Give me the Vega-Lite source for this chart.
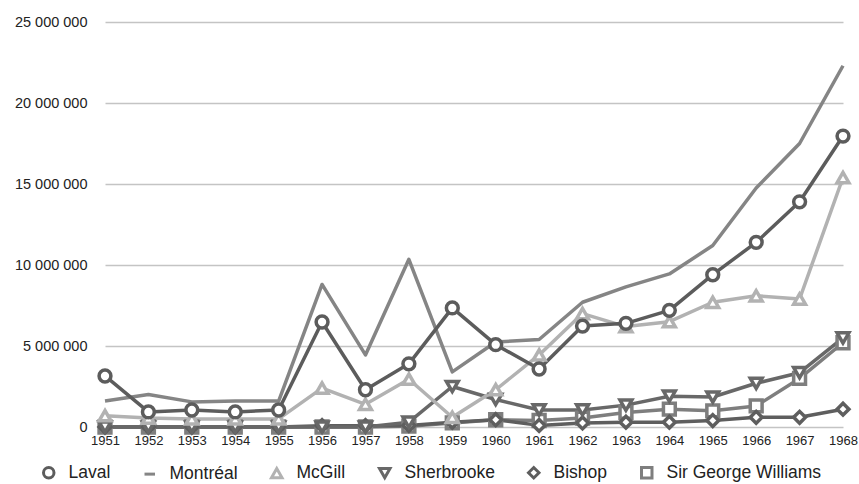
{
  "$schema": "https://vega.github.io/schema/vega-lite/v6.json",
  "autosize": {"type": "none"},
  "width": 738,
  "height": 405,
  "padding": {"left": 105, "top": 22, "right": 16, "bottom": 57},
  "background": "white",
  "config": {
    "font": "Liberation Sans",
    "view": {"stroke": null}
  },
  "resolve": {"legend": {"color": "independent", "shape": "independent"}},
  "data": {
    "values": [
      {"year": "1951", "series": "Sir George Williams", "value": 0},
      {"year": "1952", "series": "Sir George Williams", "value": 0},
      {"year": "1953", "series": "Sir George Williams", "value": 0},
      {"year": "1954", "series": "Sir George Williams", "value": 0},
      {"year": "1955", "series": "Sir George Williams", "value": 0},
      {"year": "1956", "series": "Sir George Williams", "value": 0},
      {"year": "1957", "series": "Sir George Williams", "value": 0},
      {"year": "1958", "series": "Sir George Williams", "value": 50000},
      {"year": "1959", "series": "Sir George Williams", "value": 250000},
      {"year": "1960", "series": "Sir George Williams", "value": 450000},
      {"year": "1961", "series": "Sir George Williams", "value": 400000},
      {"year": "1962", "series": "Sir George Williams", "value": 550000},
      {"year": "1963", "series": "Sir George Williams", "value": 900000},
      {"year": "1964", "series": "Sir George Williams", "value": 1100000},
      {"year": "1965", "series": "Sir George Williams", "value": 1000000},
      {"year": "1966", "series": "Sir George Williams", "value": 1300000},
      {"year": "1967", "series": "Sir George Williams", "value": 3000000},
      {"year": "1968", "series": "Sir George Williams", "value": 5200000},
      {"year": "1951", "series": "Montréal", "value": 1600000},
      {"year": "1952", "series": "Montréal", "value": 2000000},
      {"year": "1953", "series": "Montréal", "value": 1550000},
      {"year": "1954", "series": "Montréal", "value": 1600000},
      {"year": "1955", "series": "Montréal", "value": 1600000},
      {"year": "1956", "series": "Montréal", "value": 8800000},
      {"year": "1957", "series": "Montréal", "value": 4450000},
      {"year": "1958", "series": "Montréal", "value": 10350000},
      {"year": "1959", "series": "Montréal", "value": 3400000},
      {"year": "1960", "series": "Montréal", "value": 5250000},
      {"year": "1961", "series": "Montréal", "value": 5400000},
      {"year": "1962", "series": "Montréal", "value": 7700000},
      {"year": "1963", "series": "Montréal", "value": 8650000},
      {"year": "1964", "series": "Montréal", "value": 9450000},
      {"year": "1965", "series": "Montréal", "value": 11200000},
      {"year": "1966", "series": "Montréal", "value": 14750000},
      {"year": "1967", "series": "Montréal", "value": 17500000},
      {"year": "1968", "series": "Montréal", "value": 22300000},
      {"year": "1951", "series": "Bishop", "value": 0},
      {"year": "1952", "series": "Bishop", "value": 0},
      {"year": "1953", "series": "Bishop", "value": 0},
      {"year": "1954", "series": "Bishop", "value": 0},
      {"year": "1955", "series": "Bishop", "value": 0},
      {"year": "1956", "series": "Bishop", "value": 80000},
      {"year": "1957", "series": "Bishop", "value": 80000},
      {"year": "1958", "series": "Bishop", "value": 100000},
      {"year": "1959", "series": "Bishop", "value": 300000},
      {"year": "1960", "series": "Bishop", "value": 450000},
      {"year": "1961", "series": "Bishop", "value": 100000},
      {"year": "1962", "series": "Bishop", "value": 250000},
      {"year": "1963", "series": "Bishop", "value": 300000},
      {"year": "1964", "series": "Bishop", "value": 300000},
      {"year": "1965", "series": "Bishop", "value": 400000},
      {"year": "1966", "series": "Bishop", "value": 600000},
      {"year": "1967", "series": "Bishop", "value": 600000},
      {"year": "1968", "series": "Bishop", "value": 1100000},
      {"year": "1951", "series": "Sherbrooke", "value": 0},
      {"year": "1952", "series": "Sherbrooke", "value": 0},
      {"year": "1953", "series": "Sherbrooke", "value": 0},
      {"year": "1954", "series": "Sherbrooke", "value": 0},
      {"year": "1955", "series": "Sherbrooke", "value": 0},
      {"year": "1956", "series": "Sherbrooke", "value": 0},
      {"year": "1957", "series": "Sherbrooke", "value": 0},
      {"year": "1958", "series": "Sherbrooke", "value": 300000},
      {"year": "1959", "series": "Sherbrooke", "value": 2500000},
      {"year": "1960", "series": "Sherbrooke", "value": 1700000},
      {"year": "1961", "series": "Sherbrooke", "value": 1050000},
      {"year": "1962", "series": "Sherbrooke", "value": 1050000},
      {"year": "1963", "series": "Sherbrooke", "value": 1350000},
      {"year": "1964", "series": "Sherbrooke", "value": 1900000},
      {"year": "1965", "series": "Sherbrooke", "value": 1850000},
      {"year": "1966", "series": "Sherbrooke", "value": 2700000},
      {"year": "1967", "series": "Sherbrooke", "value": 3350000},
      {"year": "1968", "series": "Sherbrooke", "value": 5500000},
      {"year": "1951", "series": "McGill", "value": 700000},
      {"year": "1952", "series": "McGill", "value": 550000},
      {"year": "1953", "series": "McGill", "value": 500000},
      {"year": "1954", "series": "McGill", "value": 500000},
      {"year": "1955", "series": "McGill", "value": 500000},
      {"year": "1956", "series": "McGill", "value": 2400000},
      {"year": "1957", "series": "McGill", "value": 1400000},
      {"year": "1958", "series": "McGill", "value": 2950000},
      {"year": "1959", "series": "McGill", "value": 600000},
      {"year": "1960", "series": "McGill", "value": 2300000},
      {"year": "1961", "series": "McGill", "value": 4450000},
      {"year": "1962", "series": "McGill", "value": 7000000},
      {"year": "1963", "series": "McGill", "value": 6200000},
      {"year": "1964", "series": "McGill", "value": 6500000},
      {"year": "1965", "series": "McGill", "value": 7700000},
      {"year": "1966", "series": "McGill", "value": 8100000},
      {"year": "1967", "series": "McGill", "value": 7900000},
      {"year": "1968", "series": "McGill", "value": 15400000},
      {"year": "1951", "series": "Laval", "value": 3150000},
      {"year": "1952", "series": "Laval", "value": 930000},
      {"year": "1953", "series": "Laval", "value": 1050000},
      {"year": "1954", "series": "Laval", "value": 930000},
      {"year": "1955", "series": "Laval", "value": 1050000},
      {"year": "1956", "series": "Laval", "value": 6480000},
      {"year": "1957", "series": "Laval", "value": 2300000},
      {"year": "1958", "series": "Laval", "value": 3900000},
      {"year": "1959", "series": "Laval", "value": 7350000},
      {"year": "1960", "series": "Laval", "value": 5080000},
      {"year": "1961", "series": "Laval", "value": 3580000},
      {"year": "1962", "series": "Laval", "value": 6230000},
      {"year": "1963", "series": "Laval", "value": 6400000},
      {"year": "1964", "series": "Laval", "value": 7200000},
      {"year": "1965", "series": "Laval", "value": 9400000},
      {"year": "1966", "series": "Laval", "value": 11400000},
      {"year": "1967", "series": "Laval", "value": 13900000},
      {"year": "1968", "series": "Laval", "value": 17960000}
    ]
  },
  "encoding": {
    "x": {
      "field": "year",
      "type": "ordinal",
      "scale": {"type": "point", "padding": 0},
      "axis": {
        "title": null,
        "labelAngle": 0,
        "labelFontSize": 13,
        "labelColor": "#222222",
        "labelPadding": 7,
        "labelOverlap": false,
        "ticks": false,
        "domain": false,
        "grid": false
      }
    },
    "y": {
      "field": "value",
      "type": "quantitative",
      "scale": {"domain": [0, 25000000], "nice": false},
      "axis": {
        "title": null,
        "values": [0, 5000000, 10000000, 15000000, 20000000, 25000000],
        "labelExpr": "replace(format(datum.value, ','), regexp(',', 'g'), ' ')",
        "labelFontSize": 14.5,
        "labelColor": "#222222",
        "labelPadding": 18,
        "ticks": false,
        "domain": false,
        "grid": true,
        "gridColor": "#c4c4c4",
        "gridWidth": 1.5
      }
    }
  },
  "layer": [
    {
      "mark": {"type": "line", "strokeWidth": 3.5, "strokeJoin": "round"},
      "encoding": {
        "color": {
          "field": "series",
          "type": "nominal",
          "scale": {
            "domain": ["Laval", "Montréal", "McGill", "Sherbrooke", "Bishop", "Sir George Williams"],
            "range": ["#5c5c5c", "#858585", "#b2b2b2", "#686868", "#5e5e5e", "#7e7e7e"]
          },
          "legend": null
        }
      }
    },
    {
      "transform": [{"filter": "datum.series !== 'Montréal'"}],
      "mark": {"type": "point", "filled": false, "size": 140, "strokeWidth": 3.5, "opacity": 1, "fill": "white"},
      "encoding": {
        "color": {
          "field": "series",
          "type": "nominal",
          "scale": {
            "domain": ["Laval", "Montréal", "McGill", "Sherbrooke", "Bishop", "Sir George Williams"],
            "range": ["#5c5c5c", "#858585", "#b2b2b2", "#686868", "#5e5e5e", "#7e7e7e"]
          },
          "legend": {
            "title": null,
            "orient": "none",
            "direction": "horizontal",
            "legendX": -65,
            "legendY": 442,
            "labelFontSize": 17.5,
            "labelColor": "#222222",
            "symbolSize": 110,
            "symbolStrokeWidth": 3,
            "symbolFillColor": "white",
            "labelOffset": 11,
            "columnPadding": 27,
            "encode": {
              "symbols": {
                "update": {
                  "fill": {"value": "white"},
                  "stroke": {"scale": "color", "field": "value"},
                  "strokeWidth": {"value": 3}
                }
              }
            }
          }
        },
        "shape": {
          "field": "series",
          "type": "nominal",
          "scale": {
            "domain": ["Laval", "Montréal", "McGill", "Sherbrooke", "Bishop", "Sir George Williams"],
            "range": ["circle", "stroke", "triangle-up", "triangle-down", "diamond", "square"]
          }
        }
      }
    }
  ]
}
